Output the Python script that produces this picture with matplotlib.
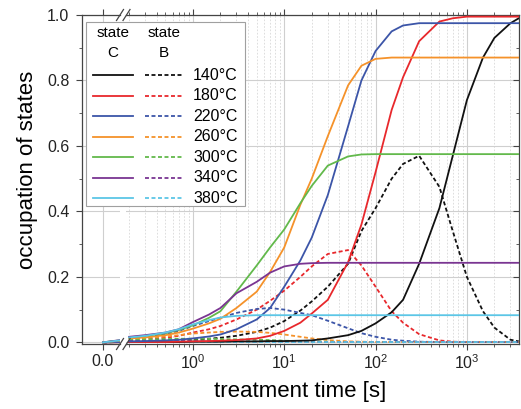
import numpy as np
import matplotlib
matplotlib.use('Agg')
import matplotlib.pyplot as plt
from matplotlib.lines import Line2D
from matplotlib.patches import Rectangle
from matplotlib.ticker import MultipleLocator, LogLocator, NullFormatter

plt.rcParams['font.family'] = ['Liberation Sans', 'DejaVu Sans']
plt.rcParams['mathtext.fontset'] = 'custom'
plt.rcParams['mathtext.rm'] = 'Liberation Sans'
plt.rcParams['mathtext.it'] = 'Liberation Sans:italic'

# treatment time [s] (t=0 is drawn in the linear part left of the break)
t = [0, 0.2, 0.3, 0.5, 0.7, 1, 1.5, 2, 3, 5, 7, 10, 15, 20, 30, 50, 70, 100,
     150, 200, 300, 500, 700, 1000, 1500, 2000, 3000, 3700]

temps = ['140°C', '180°C', '220°C', '260°C', '300°C', '340°C', '380°C']
colors = ['#111111', '#e8282c', '#3c55a8', '#f5922a', '#62b94b', '#7a3592', '#5cc6e6']

# state C (solid)
c140 = [0, 0.001, 0.001, 0.001, 0.001, 0.002, 0.002, 0.002, 0.003, 0.003, 0.004, 0.004, 0.005, 0.006, 0.012,
        0.022, 0.035, 0.058, 0.092, 0.13, 0.24, 0.41, 0.57, 0.74, 0.87, 0.93, 0.975, 0.99]
c180 = [0, 0.001, 0.001, 0.001, 0.002, 0.003, 0.004, 0.005, 0.007, 0.012, 0.02, 0.035, 0.06, 0.088, 0.13,
        0.245, 0.36, 0.52, 0.71, 0.81, 0.92, 0.98, 0.99, 0.995, 0.995, 0.995, 0.995, 0.995]
c220 = [0, 0.003, 0.004, 0.006, 0.008, 0.012, 0.018, 0.024, 0.04, 0.07, 0.105, 0.17, 0.25, 0.32, 0.45,
        0.66, 0.8, 0.89, 0.95, 0.968, 0.975, 0.975, 0.975, 0.975, 0.975, 0.975, 0.975, 0.975]
c260 = [0, 0.012, 0.015, 0.022, 0.03, 0.042, 0.058, 0.072, 0.105, 0.155, 0.215, 0.29, 0.42, 0.5, 0.63,
        0.785, 0.845, 0.866, 0.87, 0.87, 0.87, 0.87, 0.87, 0.87, 0.87, 0.87, 0.87, 0.87]
c300 = [0, 0.015, 0.02, 0.028, 0.038, 0.052, 0.075, 0.095, 0.155, 0.235, 0.29, 0.345, 0.425, 0.478, 0.54,
        0.568, 0.574, 0.575, 0.575, 0.575, 0.575, 0.575, 0.575, 0.575, 0.575, 0.575, 0.575, 0.575]
c340 = [0, 0.017, 0.022, 0.03, 0.04, 0.062, 0.085, 0.105, 0.15, 0.185, 0.213, 0.232, 0.24, 0.242, 0.243,
        0.243, 0.243, 0.243, 0.243, 0.243, 0.243, 0.243, 0.243, 0.243, 0.243, 0.243, 0.243, 0.243]
c380 = [0, 0.015, 0.02, 0.03, 0.04, 0.055, 0.068, 0.076, 0.081, 0.083, 0.083, 0.083, 0.083, 0.083, 0.083,
        0.083, 0.083, 0.083, 0.083, 0.083, 0.083, 0.083, 0.083, 0.083, 0.083, 0.083, 0.083, 0.083]

# state B (dashed)
b140 = [0, 0.003, 0.004, 0.005, 0.006, 0.008, 0.011, 0.014, 0.02, 0.032, 0.045, 0.065, 0.097, 0.125, 0.17,
        0.24, 0.34, 0.41, 0.5, 0.545, 0.57, 0.475, 0.34, 0.2, 0.095, 0.045, 0.008, 0.003]
b180 = [0, 0.008, 0.01, 0.014, 0.02, 0.03, 0.04, 0.05, 0.07, 0.1, 0.127, 0.158, 0.2, 0.232, 0.27,
        0.282, 0.235, 0.17, 0.095, 0.06, 0.025, 0.006, 0.002, 0.001, 0.001, 0.001, 0.001, 0.001]
b220 = [0, 0.012, 0.016, 0.025, 0.035, 0.05, 0.065, 0.075, 0.09, 0.102, 0.105, 0.1, 0.09, 0.083, 0.066,
        0.043, 0.028, 0.017, 0.008, 0.005, 0.002, 0.001, 0.001, 0.001, 0.001, 0.001, 0.001, 0.001]
b260 = [0, 0.01, 0.013, 0.018, 0.022, 0.027, 0.03, 0.032, 0.033, 0.032, 0.029, 0.024, 0.017, 0.012, 0.007,
        0.003, 0.002, 0.001, 0.001, 0.001, 0.001, 0.001, 0.001, 0.001, 0.001, 0.001, 0.001, 0.001]
b300 = [0, 0.008, 0.009, 0.01, 0.011, 0.011, 0.011, 0.01, 0.009, 0.008, 0.007, 0.005, 0.004, 0.003, 0.002,
        0.001, 0.001, 0.001, 0.001, 0.001, 0.001, 0.001, 0.001, 0.001, 0.001, 0.001, 0.001, 0.001]
b340 = [0, 0.004, 0.004, 0.004, 0.004, 0.004, 0.003, 0.003, 0.002, 0.002, 0.001, 0.001, 0.001, 0.001, 0.001,
        0.001, 0.001, 0.001, 0.001, 0.001, 0.001, 0.001, 0.001, 0.001, 0.001, 0.001, 0.001, 0.001]
b380 = [0, 0.002, 0.002, 0.002, 0.002, 0.002, 0.002, 0.001, 0.001, 0.001, 0.001, 0.001, 0.001, 0.001, 0.001,
        0.001, 0.001, 0.001, 0.001, 0.001, 0.001, 0.001, 0.001, 0.001, 0.001, 0.001, 0.001, 0.001]

state_c = [c140, c180, c220, c260, c300, c340, c380]
state_b = [b140, b180, b220, b260, b300, b340, b380]

W, H = 521, 409


def fx(x):
    return x / W


def fy(y):
    return 1 - y / H


fig = plt.figure(figsize=(W / 100, H / 100), dpi=100)
top_px, bot_px = 15, 344
ax0 = fig.add_axes([fx(82), fy(bot_px), fx(120) - fx(82), fy(top_px) - fy(bot_px)])
ax1 = fig.add_axes([fx(126), fy(bot_px), fx(519) - fx(126), fy(top_px) - fy(bot_px)], sharey=ax0)

tt = np.array(t)
lw = 1.3
dash = (0, (2.2, 1.4))
for i in range(len(temps)):
    for ax, sel in ((ax0, slice(0, 3)), (ax1, slice(1, None))):
        ax.plot(tt[sel], state_b[i][sel], color=colors[i], lw=lw, ls=dash, zorder=3)
        ax.plot(tt[sel], state_c[i][sel], color=colors[i], lw=lw, zorder=4)

ax0.set_xlim(-0.1, 0.081)
ax1.set_xscale('log')
ax1.set_xlim(0.185, 3720)
ax0.set_ylim(-0.005, 1.0)

ax0.set_xticks([0])
ax0.set_xticklabels(['0.0'])
ax0.yaxis.set_major_locator(MultipleLocator(0.2))
ax0.yaxis.set_minor_locator(MultipleLocator(0.1))
ax0.yaxis.set_major_formatter(plt.FormatStrFormatter('%.1f'))
ax1.xaxis.set_major_locator(LogLocator(base=10, numticks=10))
ax1.xaxis.set_minor_locator(LogLocator(base=10, subs=np.arange(2, 10), numticks=20))
ax1.xaxis.set_minor_formatter(NullFormatter())

for ax in (ax0, ax1):
    ax.grid(True, which='major', color='#cfcfcf', lw=0.8)
    for sp in ax.spines.values():
        sp.set_color('#444444')
        sp.set_linewidth(0.9)
    ax.tick_params(which='both', colors='#444444', labelcolor='#222222', labelsize=11.5)
ax1.grid(True, which='minor', axis='x', color='#d8d8d8', lw=0.6, ls=(0, (2, 2)))

ax0.spines['right'].set_visible(False)
ax1.spines['left'].set_visible(False)
ax0.tick_params(axis='x', which='major', direction='out', length=4, top=True, pad=3)
ax0.tick_params(axis='y', which='major', direction='out', length=4, pad=5)
ax0.tick_params(axis='y', which='minor', direction='out', length=2.5)
ax1.tick_params(axis='y', which='both', left=False, labelleft=False, right=True, direction='in')
ax1.tick_params(axis='y', which='major', length=4)
ax1.tick_params(axis='y', which='minor', length=2.5)
ax1.tick_params(axis='x', which='major', direction='out', length=4, pad=3)
ax1.tick_params(axis='x', which='minor', direction='out', length=2.5)
ax1.tick_params(axis='x', which='both', top=True)
ax1.xaxis.set_tick_params(which='both', labeltop=False)

fig.text(fx(300), fy(391), 'treatment time [s]', ha='center', va='center', fontsize=16)
fig.text(fx(28), fy(170), 'occupation of states', ha='center', va='center', rotation=90, fontsize=16)

# axis break marks
for yb in (top_px, bot_px):
    for xb in (120, 126.5):
        fig.add_artist(Line2D([fx(xb - 3.5), fx(xb + 3.5)], [fy(yb + 5.5), fy(yb - 5.5)],
                              color='#444444', lw=0.9))

# legend box
fig.add_artist(Rectangle((fx(86), fy(206)), fx(245) - fx(86), fy(22) - fy(206),
                         facecolor='white', edgecolor='#a0a0a0', lw=0.8, zorder=10))
for xh, lab in ((113, 'C'), (164, 'B')):
    fig.text(fx(xh), fy(33), 'state', ha='center', va='center', fontsize=11, zorder=11)
    fig.text(fx(xh), fy(53), lab, ha='center', va='center', fontsize=11, zorder=11)
for i, lab in enumerate(temps):
    yr = 75 + i * 20.55
    fig.add_artist(Line2D([fx(93), fx(133)], [fy(yr), fy(yr)], color=colors[i], lw=lw, zorder=11))
    fig.add_artist(Line2D([fx(145), fx(183)], [fy(yr), fy(yr)], color=colors[i], lw=lw,
                          ls=dash, zorder=11))
    fig.text(fx(193), fy(yr), lab, ha='left', va='center', fontsize=11.5, zorder=11)

fig.savefig('out.png', dpi=100)
